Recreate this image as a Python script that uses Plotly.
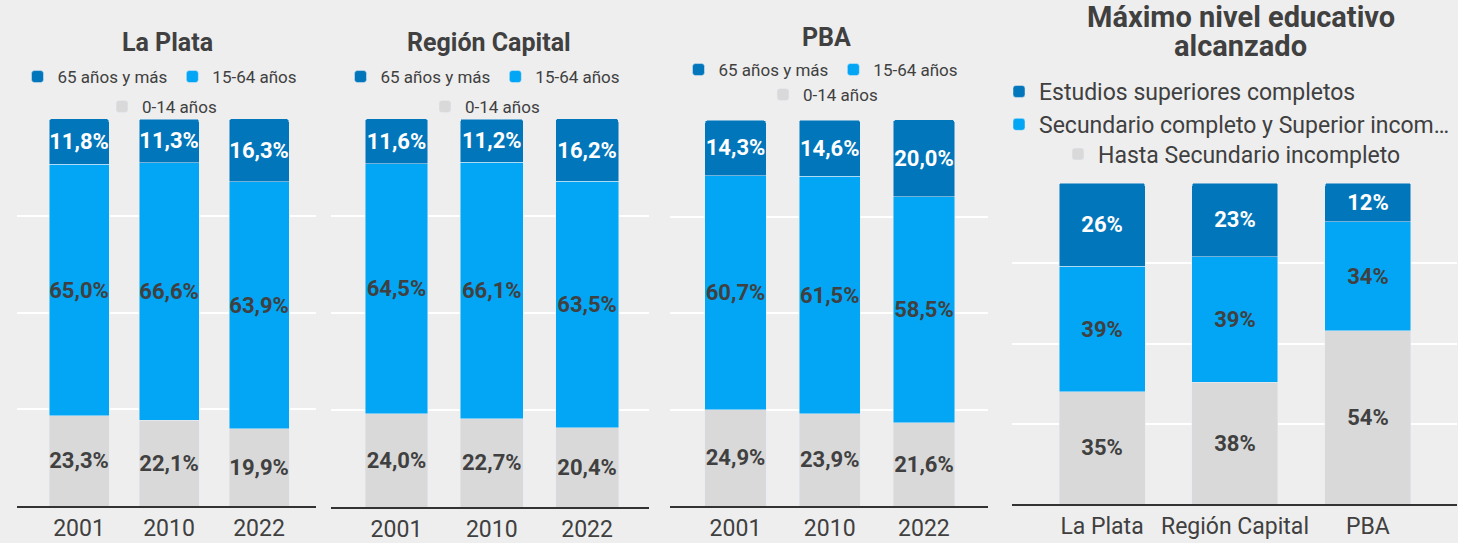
import plotly.graph_objects as go

# ===== DATOS =====
anios = ['2001', '2010', '2022']
grupos = ['65 años y más', '15-64 años', '0-14 años']

la_plata_65 = [11.8, 11.3, 16.3]
la_plata_15 = [65.0, 66.6, 63.9]
la_plata_0 = [23.3, 22.1, 19.9]

region_65 = [11.6, 11.2, 16.2]
region_15 = [64.5, 66.1, 63.5]
region_0 = [24.0, 22.7, 20.4]

pba_65 = [14.3, 14.6, 20.0]
pba_15 = [60.7, 61.5, 58.5]
pba_0 = [24.9, 23.9, 21.6]

zonas = ['La Plata', 'Región Capital', 'PBA']
niveles = ['Estudios superiores completos',
           'Secundario completo y Superior incom…',
           'Hasta Secundario incompleto']
edu_sup = [26, 23, 12]
edu_sec = [39, 39, 34]
edu_hasta = [35, 38, 54]

# Paleta
AZUL_OSC = '#0276BA'
AZUL_CLA = '#02A6F4'
GRIS = '#D9D9D9'
TXT = '#404040'
FONDO = '#EEEEEE'

W, H = 1458, 543
T_BARRA = 22  # tamaño del texto dentro de las barras


def px_x(v):
    return v / W


def px_y(v):
    return 1 - v / H


def barra(x, y, nombre, color, eje_x, eje_y, leyenda, ancho, plantilla, color_txt):
    return go.Bar(x=x, y=y, name=nombre, marker_color=color,
                  xaxis=eje_x, yaxis=eje_y, legend=leyenda, width=ancho,
                  texttemplate=plantilla, textposition='inside', textangle=0,
                  insidetextanchor='middle', constraintext='none',
                  textfont=dict(color=color_txt, size=T_BARRA))


fig = go.Figure()

# paneles de edad
paneles = [
    (la_plata_0, la_plata_15, la_plata_65, 'x', 'y', 'legend', 'legend2', 0.667),
    (region_0, region_15, region_65, 'x2', 'y2', 'legend3', 'legend4', 0.66),
    (pba_0, pba_15, pba_65, 'x3', 'y3', 'legend5', 'legend6', 0.65),
]
fmt_dec = '<b>%{y:.1f}%</b>'
for v0, v15, v65, xa, ya, lg1, lg2, ancho in paneles:
    fig.add_trace(barra(anios, v0, grupos[2], GRIS, xa, ya, lg2, ancho, fmt_dec, TXT))
    fig.add_trace(barra(anios, v15, grupos[1], AZUL_CLA, xa, ya, lg1, ancho, fmt_dec, TXT))
    fig.add_trace(barra(anios, v65, grupos[0], AZUL_OSC, xa, ya, lg1, ancho, fmt_dec, 'white'))

# panel educativo
fmt_ent = '<b>%{y}%</b>'
fig.add_trace(barra(zonas, edu_hasta, niveles[2], GRIS, 'x4', 'y4', 'legend8', 0.647, fmt_ent, TXT))
fig.add_trace(barra(zonas, edu_sec, niveles[1], AZUL_CLA, 'x4', 'y4', 'legend7', 0.647, fmt_ent, TXT))
fig.add_trace(barra(zonas, edu_sup, niveles[0], AZUL_OSC, 'x4', 'y4', 'legend7', 0.647, fmt_ent, 'white'))

# ejes
ejes_x = [
    ('xaxis', 17, 316, [-0.689, 2.633]),
    ('xaxis2', 331, 649, [-0.687, 2.65]),
    ('xaxis3', 670, 988, [-0.695, 2.68]),
    ('xaxis4', 1012, 1457, [-0.677, 2.67]),
]
ejes_y = [
    ('yaxis', 119, 506),
    ('yaxis2', 119, 507),
    ('yaxis3', 120, 506),
    ('yaxis4', 183, 504),
]
for i, ((xn, x0, x1, rng), (yn, ytop, ybot)) in enumerate(zip(ejes_x, ejes_y)):
    suf = '' if i == 0 else str(i + 1)
    fig.layout[xn] = dict(domain=[px_x(x0), px_x(x1)], range=rng, type='category',
                          anchor='y' + suf, showline=True, linecolor='#333333',
                          linewidth=2, showgrid=False, ticks='',
                          tickfont=dict(size=23, color=TXT), fixedrange=True)
    fig.layout[yn] = dict(domain=[px_y(ybot), px_y(ytop)], range=[0, 100],
                          anchor='x' + suf, showticklabels=False, dtick=25,
                          gridcolor='white', gridwidth=2, zeroline=False,
                          fixedrange=True)

# leyendas
ley_fila = dict(orientation='h', bgcolor='rgba(0,0,0,0)', font=dict(size=17, color=TXT),
                xanchor='center', yanchor='middle', traceorder='reversed')
ley_pos = {
    'legend': (160, 77), 'legend2': (162, 107),
    'legend3': (483, 77), 'legend4': (485, 107),
    'legend5': (821, 70), 'legend6': (823, 95),
}
for nombre, (lx, ly) in ley_pos.items():
    fig.layout[nombre] = dict(ley_fila, x=px_x(lx), y=px_y(ly))

fig.layout['legend7'] = dict(orientation='v', bgcolor='rgba(0,0,0,0)',
                             font=dict(size=23, color=TXT), traceorder='reversed',
                             xanchor='left', yanchor='middle',
                             x=px_x(999), y=px_y(108))
fig.layout['legend8'] = dict(orientation='h', bgcolor='rgba(0,0,0,0)',
                             font=dict(size=23, color=TXT),
                             xanchor='center', yanchor='middle',
                             x=px_x(1232), y=px_y(154))

# títulos
titulos = [
    ('<b>La Plata</b>', 167, 42, 25),
    ('<b>Región Capital</b>', 489, 42, 25),
    ('<b>PBA</b>', 826, 37, 25),
    ('<b>Máximo nivel educativo</b>', 1241, 17, 29),
    ('<b>alcanzado</b>', 1240, 46, 29),
]
for txt, tx, ty, ts in titulos:
    fig.add_annotation(text=txt, x=px_x(tx), y=px_y(ty), xref='paper', yref='paper',
                       xanchor='center', yanchor='middle', showarrow=False,
                       font=dict(size=ts, color=TXT))

fig.update_layout(
    width=W, height=H,
    barmode='stack',
    barcornerradius=3,
    separators=',.',
    paper_bgcolor=FONDO,
    plot_bgcolor=FONDO,
    font=dict(family='Roboto', color=TXT),
    margin=dict(l=0, r=0, t=0, b=0),
    showlegend=True,
)

# quitar el margen del body para que la figura ocupe toda la ventana
fig.write_html('out.html', config={'displayModeBar': False},
               post_script="document.body.style.margin='0';document.body.style.overflow='hidden';")
